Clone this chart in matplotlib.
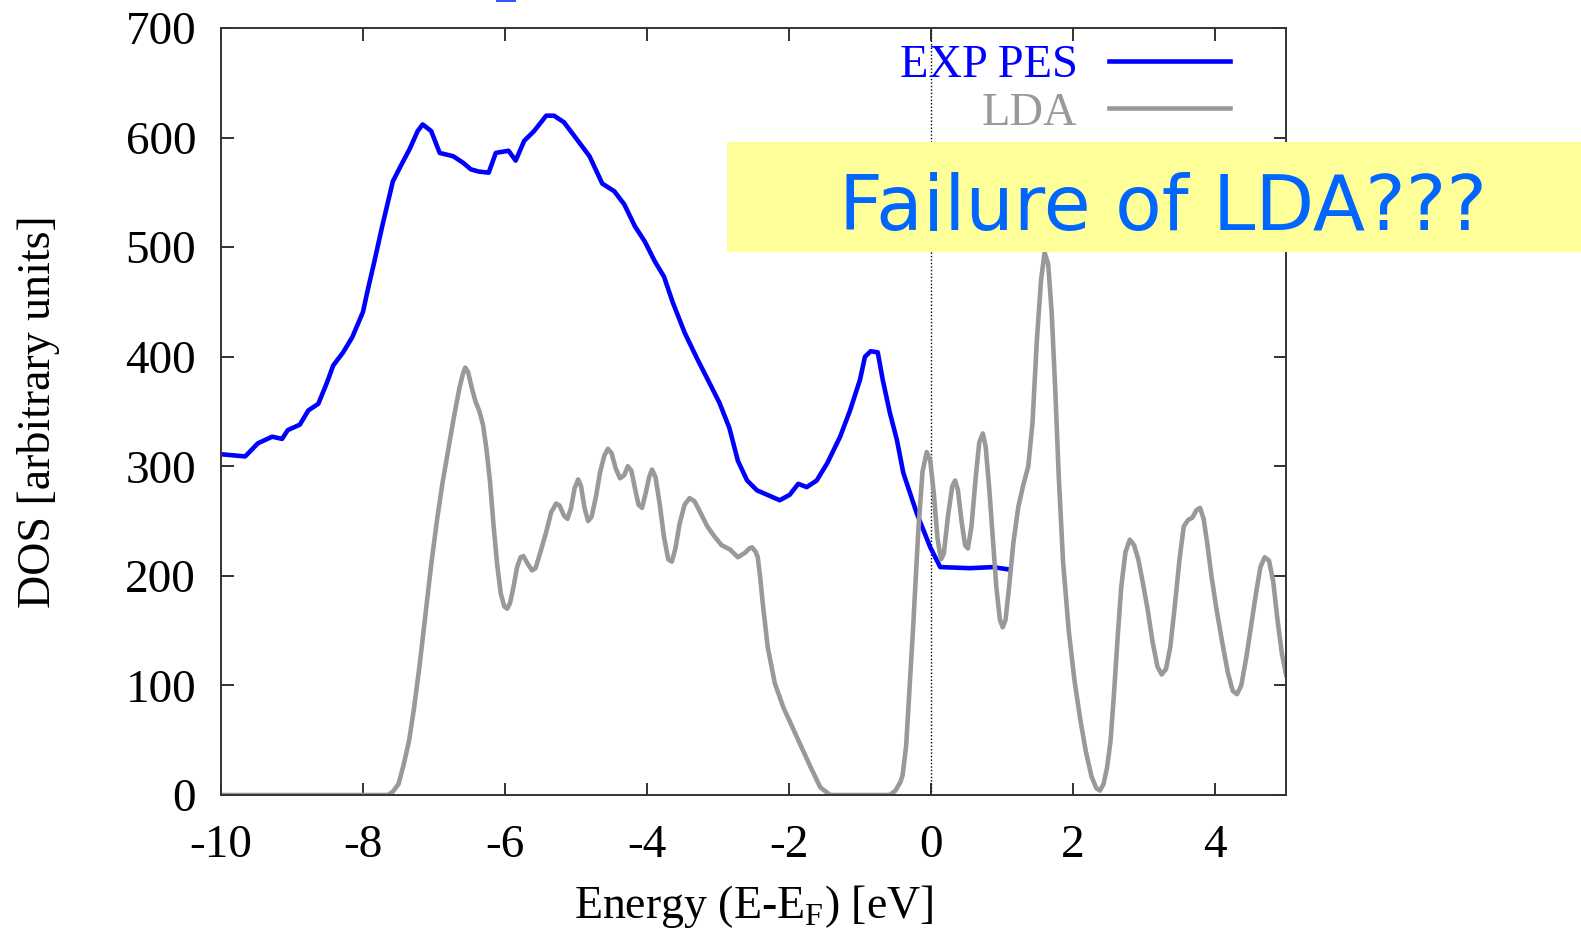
import matplotlib
matplotlib.use("Agg")
import matplotlib.pyplot as plt
from matplotlib.patches import Rectangle

exp_energy = [-10.0, -9.66, -9.48, -9.28, -9.14, -9.06, -8.89, -8.77, -8.63, -8.51,
              -8.42, -8.28, -8.15, -8.0, -7.94, -7.84, -7.73, -7.58, -7.47, -7.34,
              -7.23, -7.16, -7.04, -6.92, -6.73, -6.59, -6.48, -6.37, -6.23, -6.13,
              -5.95, -5.85, -5.73, -5.59, -5.42, -5.31, -5.17, -5.03, -4.81, -4.63,
              -4.46, -4.32, -4.17, -4.03, -3.89, -3.76, -3.64, -3.47, -3.30, -3.12,
              -2.98, -2.84, -2.72, -2.59, -2.45, -2.13, -1.99, -1.87, -1.75, -1.61,
              -1.46, -1.28, -1.14, -1.0, -0.93, -0.85, -0.75, -0.68, -0.58, -0.48,
              -0.39, -0.20, -0.01, 0.13, 0.55, 0.87, 1.08]
exp_dos = [311, 309, 321, 327, 325, 333, 338, 351, 357, 376,
           392, 404, 418, 441, 459, 487, 519, 560, 574, 590,
           606, 612, 606, 586, 583, 577, 571, 569, 568, 586,
           588, 579, 597, 606, 620, 620, 614, 602, 583, 558,
           551, 539, 519, 505, 487, 473, 450, 422, 399, 376,
           358, 335, 305, 287, 278, 269, 274, 284, 281, 287,
           303, 327, 351, 379, 400, 405, 404, 379, 349, 324,
           294, 257, 226, 208, 207, 208, 206]

lda_energy = [-10.0, -7.65, -7.58, -7.50, -7.43, -7.35, -7.28, -7.20, -7.12, -7.04,
              -6.96, -6.88, -6.80, -6.72, -6.64, -6.59, -6.56, -6.52, -6.47, -6.42,
              -6.36, -6.31, -6.26, -6.21, -6.16, -6.11, -6.06, -6.01, -5.97, -5.93,
              -5.88, -5.83, -5.78, -5.74, -5.69, -5.62, -5.57, -5.50, -5.42, -5.35,
              -5.28, -5.23, -5.17, -5.12, -5.07, -5.02, -4.97, -4.93, -4.88, -4.83,
              -4.78, -4.72, -4.66, -4.60, -4.55, -4.50, -4.44, -4.38, -4.32, -4.27,
              -4.22, -4.17, -4.12, -4.07, -4.02, -3.97, -3.93, -3.88, -3.82, -3.76,
              -3.70, -3.65, -3.60, -3.54, -3.47, -3.40, -3.33, -3.25, -3.15, -3.05,
              -2.95, -2.83, -2.72, -2.62, -2.56, -2.52, -2.47, -2.44, -2.40, -2.37,
              -2.30, -2.20, -2.08, -1.89, -1.70, -1.56, -1.42, -0.58, -0.50, -0.43,
              -0.40, -0.35, -0.30, -0.25, -0.18, -0.12, -0.06, -0.01, 0.04, 0.09,
              0.14, 0.18, 0.24, 0.30, 0.34, 0.38, 0.43, 0.48, 0.52, 0.57,
              0.63, 0.68, 0.73, 0.77, 0.82, 0.87, 0.92, 0.97, 1.01, 1.05,
              1.10, 1.16, 1.23, 1.30, 1.37, 1.43, 1.49, 1.55, 1.60, 1.65,
              1.70, 1.75, 1.80, 1.86, 1.94, 2.02, 2.10, 2.18, 2.26, 2.33,
              2.38, 2.43, 2.48, 2.53, 2.58, 2.63, 2.68, 2.74, 2.80, 2.86,
              2.92, 2.98, 3.05, 3.12, 3.19, 3.25, 3.31, 3.37, 3.43, 3.50,
              3.56, 3.62, 3.68, 3.74, 3.79, 3.84, 3.89, 3.95, 4.02, 4.10,
              4.18, 4.25, 4.31, 4.37, 4.44, 4.51, 4.58, 4.64, 4.70, 4.76,
              4.82, 4.88, 4.94, 5.0]
lda_dos = [0, 0, 3, 10, 27, 50, 80, 120, 165, 210,
           250, 285, 315, 345, 372, 385, 390, 386, 372, 360,
           350, 338, 315, 285, 245, 210, 184, 172, 170, 175,
           190, 208, 217, 218, 212, 205, 207, 222, 240, 258,
           266, 264, 255, 252, 262, 280, 288, 282, 262, 250,
           254, 272, 295, 310, 316, 312, 298, 289, 292, 300,
           296, 280, 265, 262, 275, 290, 297, 290, 265, 235,
           215, 213, 225, 248, 265, 271, 268, 258, 245, 236,
           228, 224, 217, 221, 225, 226, 222, 217, 195, 175,
           135, 102, 80, 53, 26, 7, 0, 0, 4, 12,
           18, 45, 100, 155, 240, 295, 313, 305, 275, 235,
           215, 220, 255, 282, 287, 278, 250, 228, 225, 245,
           290, 322, 330, 318, 280, 235, 190, 160, 153, 160,
           190, 230, 263, 283, 300, 340, 414, 470, 495, 485,
           440, 370, 290, 213, 150, 105, 70, 40, 17, 6,
           4, 10, 25, 50, 95, 145, 190, 222, 233, 228,
           215, 195, 170, 140, 117, 110, 115, 135, 170, 215,
           245, 251, 253, 260, 262, 252, 230, 200, 170, 140,
           112, 95, 92, 100, 125, 155, 185, 208, 217, 214,
           195, 160, 130, 110]

x_ticks = [-10, -8, -6, -4, -2, 0, 2, 4]
y_ticks = [0, 100, 200, 300, 400, 500, 600, 700]

plt.rcParams["font.family"] = "Liberation Serif"
plt.rcParams["mathtext.fontset"] = "custom"
plt.rcParams["mathtext.rm"] = "Liberation Serif"
plt.rcParams["axes.unicode_minus"] = False

fig = plt.figure(figsize=(15.81, 9.31), dpi=100)
ax = fig.add_axes([0.1398, 0.1461, 0.6736, 0.8238])

ax.plot(exp_energy, exp_dos, color="#0000ff", lw=3.3, label="EXP PES")
ax.plot(lda_energy, lda_dos, color="#999999", lw=3.3, label="LDA")
ax.axvline(0, color="black", lw=1.0, ls=(0, (1, 1.5)), zorder=1)

ax.set_xlim(-10, 5)
ax.set_ylim(0, 700)
ax.set_xticks(x_ticks)
ax.set_yticks(y_ticks)
ax.tick_params(direction="in", length=9, width=1.3, labelsize=34,
               top=True, right=True, color="#222222")
ax.tick_params(axis="x", pad=21)
ax.tick_params(axis="y", pad=18)
for sp in ax.spines.values():
    sp.set_linewidth(1.4)
    sp.set_color("#333333")

ax.set_xlabel("Energy (E-E$_\\mathrm{F}$) [eV]", fontsize=33, labelpad=12)
ax.set_ylabel("DOS [arbitrary units]", fontsize=33, labelpad=47)

leg = ax.legend(loc="upper right", bbox_to_anchor=(0.947, 0.978), frameon=False,
                markerfirst=False, fontsize=33.5, handlelength=2.6, handletextpad=0.67,
                labelspacing=0.1, borderpad=0, borderaxespad=0, labelcolor="linecolor")

# yellow call-out box across the right side
fig.patches.append(Rectangle((0.4598, 0.7293), 0.5402, 0.1182, transform=fig.transFigure,
                             facecolor="#ffff99", edgecolor="none", zorder=5))
fig.text(0.7356, 0.7530, "Failure of LDA???", ha="center", va="baseline",
         fontsize=55, color="#0066ff", family="DejaVu Sans", zorder=6)

# bit of underline from the slide above
fig.patches.append(Rectangle((496 / 1581, 1 - 2 / 931), 20 / 1581, 2 / 931,
                             transform=fig.transFigure, facecolor="#3355ff",
                             edgecolor="none"))

fig.savefig("out.png", dpi=100)
